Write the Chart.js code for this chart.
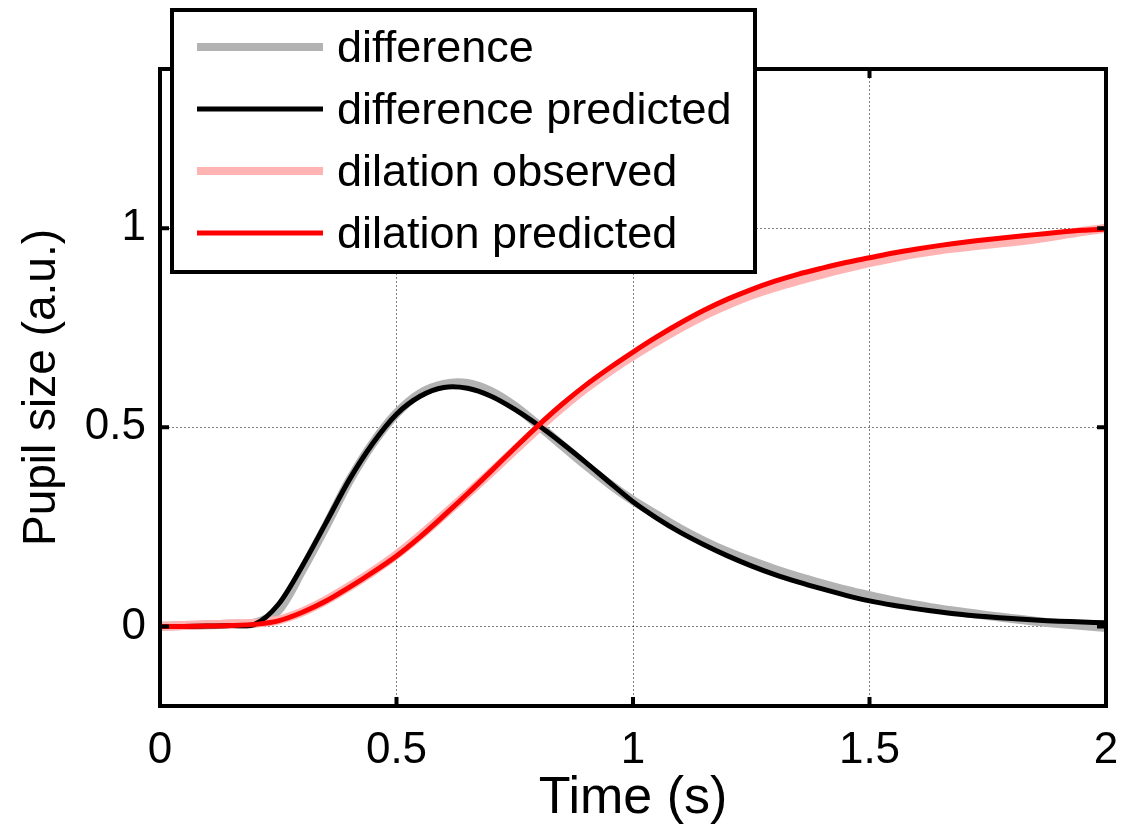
<!DOCTYPE html>
<html>
<head>
<meta charset="utf-8">
<script src="https://cdn.jsdelivr.net/npm/chart.js@4/dist/chart.umd.min.js"></script>
<style>
  html, body { margin: 0; padding: 0; background: #fff; }
  #wrap { width: 1122px; height: 825px; }
</style>
</head>
<body>
<div id="wrap"><canvas id="pupilChart" width="1122" height="825"></canvas></div>
<script>
// time axis (s), one sample every 50 ms
const times = [0, 0.05, 0.1, 0.15, 0.2, 0.25, 0.3, 0.35, 0.4, 0.45,
    0.5, 0.55, 0.6, 0.65, 0.7, 0.75, 0.8, 0.85, 0.9, 0.95,
    1.0, 1.05, 1.1, 1.15, 1.2, 1.25, 1.3, 1.35, 1.4, 1.45,
    1.5, 1.55, 1.6, 1.65, 1.7, 1.75, 1.8, 1.85, 1.9, 1.95, 2.0];

const difference = [0, 0.002, 0.004, 0.006, 0.008, 0.04, 0.14, 0.25, 0.365, 0.46,
    0.535, 0.585, 0.608, 0.61, 0.59, 0.553, 0.505, 0.455, 0.405, 0.358,
    0.316, 0.28, 0.245, 0.214, 0.187, 0.164, 0.143, 0.124, 0.107, 0.091,
    0.077, 0.064, 0.053, 0.043, 0.035, 0.027, 0.02, 0.013, 0.007, 0.002, -0.003];

const differencePredicted = [0, 0, 0.001, 0.002, 0.005, 0.055, 0.15, 0.258, 0.368, 0.46,
    0.533, 0.578, 0.6, 0.598, 0.578, 0.545, 0.505, 0.46, 0.412, 0.362,
    0.313, 0.272, 0.236, 0.205, 0.177, 0.152, 0.13, 0.111, 0.094, 0.078,
    0.064, 0.053, 0.044, 0.036, 0.029, 0.024, 0.02, 0.016, 0.013, 0.011, 0.009];

const dilationObserved = [0, 0.002, 0.004, 0.006, 0.008, 0.016, 0.036, 0.065, 0.1, 0.138,
    0.18, 0.228, 0.28, 0.333, 0.387, 0.443, 0.498, 0.55, 0.598, 0.641,
    0.68, 0.716, 0.75, 0.781, 0.808, 0.832, 0.852, 0.869, 0.885, 0.9,
    0.914, 0.926, 0.937, 0.946, 0.953, 0.96, 0.966, 0.973, 0.982, 0.992, 1.0];

const dilationPredicted = [0, 0, 0.001, 0.002, 0.005, 0.014, 0.035, 0.063, 0.098, 0.136,
    0.177, 0.225, 0.278, 0.333, 0.39, 0.448, 0.505, 0.558, 0.606, 0.649,
    0.689, 0.727, 0.762, 0.794, 0.822, 0.846, 0.867, 0.885, 0.9, 0.914,
    0.926, 0.938, 0.948, 0.957, 0.965, 0.972, 0.978, 0.984, 0.99, 0.995, 0.998];

const xTicks = [0, 0.5, 1, 1.5, 2];
const yTicks = [0, 0.5, 1];

const FONT = '"Liberation Sans", Arial, sans-serif';

function toPoints(values) {
    return values.map((v, i) => ({ x: times[i], y: v }));
}

// box around the axes + inward tick marks
const framePlugin = {
    id: 'frame',
    afterDatasetsDraw(chart) {
        const { ctx, chartArea: a, scales } = chart;
        ctx.save();
        ctx.strokeStyle = '#000';
        ctx.lineWidth = 4;
        ctx.lineCap = 'butt';
        ctx.beginPath();
        xTicks.forEach(t => {
            const px = scales.x.getPixelForValue(t);
            ctx.moveTo(px, a.bottom); ctx.lineTo(px, a.bottom - 9);
            ctx.moveTo(px, a.top); ctx.lineTo(px, a.top + 9);
        });
        yTicks.forEach(t => {
            const py = scales.y.getPixelForValue(t);
            ctx.moveTo(a.left, py); ctx.lineTo(a.left + 9, py);
            ctx.moveTo(a.right, py); ctx.lineTo(a.right - 9, py);
        });
        ctx.stroke();
        ctx.strokeRect(a.left, a.top, a.right - a.left, a.bottom - a.top);
        ctx.restore();
    }
};

// matlab-like legend box, partly above the axes
const legendPlugin = {
    id: 'boxLegend',
    afterDraw(chart) {
        const { ctx } = chart;
        const box = { x: 172, y: 10, w: 583, h: 262 };
        const rows = [47, 109, 171, 233];
        ctx.save();
        ctx.fillStyle = '#fff';
        ctx.fillRect(box.x, box.y, box.w, box.h);
        ctx.strokeStyle = '#000';
        ctx.lineWidth = 4;
        ctx.strokeRect(box.x, box.y, box.w, box.h);
        ctx.font = '45px ' + FONT;
        ctx.textBaseline = 'alphabetic';
        chart.data.datasets.forEach((ds, i) => {
            ctx.strokeStyle = ds.borderColor;
            ctx.lineWidth = ds.legendWidth;
            ctx.beginPath();
            ctx.moveTo(197, rows[i]);
            ctx.lineTo(323, rows[i]);
            ctx.stroke();
            ctx.fillStyle = '#000';
            ctx.fillText(ds.label, 337, rows[i] + 15);
        });
        ctx.restore();
    }
};

const ctx = document.getElementById('pupilChart').getContext('2d');

new Chart(ctx, {
    type: 'line',
    data: {
        datasets: [
            { label: 'difference', data: toPoints(difference), borderColor: '#b3b3b3', borderWidth: 9, legendWidth: 8, order: 3 },
            { label: 'difference predicted', data: toPoints(differencePredicted), borderColor: '#000000', borderWidth: 5, legendWidth: 5, order: 1 },
            { label: 'dilation observed', data: toPoints(dilationObserved), borderColor: '#ffb3b3', borderWidth: 9, legendWidth: 8, order: 2 },
            { label: 'dilation predicted', data: toPoints(dilationPredicted), borderColor: '#ff0000', borderWidth: 5, legendWidth: 5, order: 0 }
        ]
    },
    options: {
        responsive: false,
        animation: false,
        events: [],
        layout: { padding: { top: 69, right: 0, left: 0, bottom: 0 } },
        elements: {
            point: { radius: 0 },
            line: { tension: 0.3, fill: false, borderCapStyle: 'round', borderJoinStyle: 'round' }
        },
        plugins: {
            legend: { display: false },
            tooltip: { enabled: false }
        },
        scales: {
            x: {
                type: 'linear',
                min: 0,
                max: 2,
                afterBuildTicks: s => { s.ticks = xTicks.map(v => ({ value: v })); },
                afterFit: s => { s.height = 119; s.paddingRight = 16; s.paddingLeft = 0; },
                ticks: {
                    color: '#000',
                    font: { family: FONT, size: 44 },
                    padding: 18,
                    maxRotation: 0,
                    callback: v => String(v)
                },
                grid: { color: 'rgba(0,0,0,0.5)', lineWidth: 1, drawTicks: false },
                border: { display: false, dash: [2, 2] },
                title: {
                    display: true,
                    text: 'Time (s)',
                    color: '#000',
                    font: { family: FONT, size: 52 },
                    padding: { top: 0, bottom: -5 }
                }
            },
            y: {
                min: -0.2,
                max: 1.4,
                afterBuildTicks: s => { s.ticks = yTicks.map(v => ({ value: v })); },
                afterFit: s => { s.width = 160; },
                ticks: {
                    color: '#000',
                    font: { family: FONT, size: 44 },
                    padding: 14,
                    callback: v => String(v)
                },
                grid: { color: 'rgba(0,0,0,0.5)', lineWidth: 1, drawTicks: false },
                border: { display: false, dash: [2, 2] },
                title: {
                    display: true,
                    text: 'Pupil size (a.u.)',
                    color: '#000',
                    font: { family: FONT, size: 46 },
                    padding: { top: 15, bottom: 0 }
                }
            }
        }
    },
    plugins: [framePlugin, legendPlugin]
});
</script>
</body>
</html>
